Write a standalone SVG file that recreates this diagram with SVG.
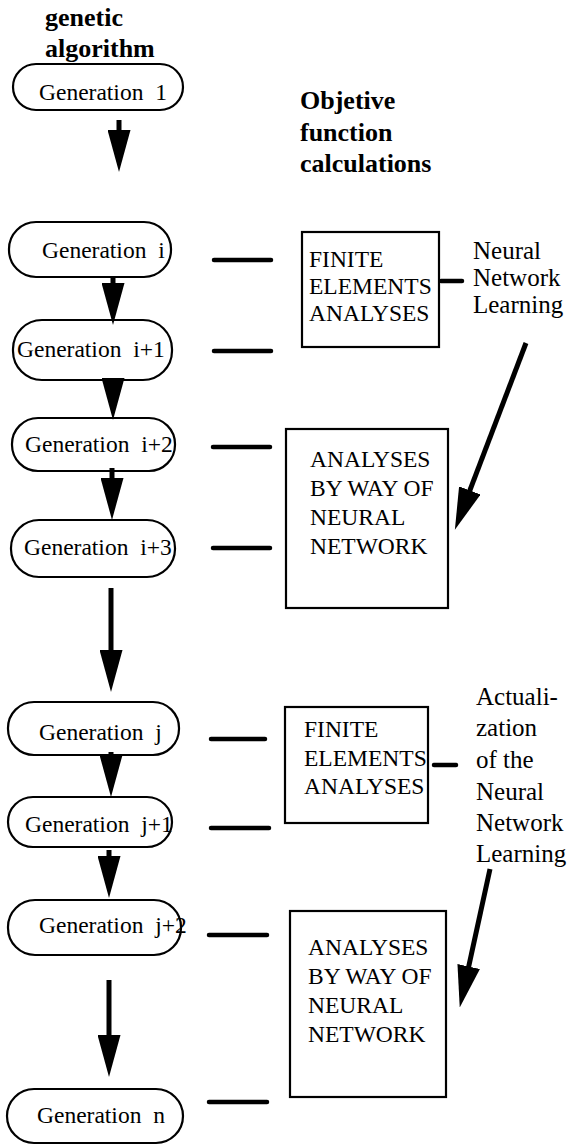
<svg xmlns="http://www.w3.org/2000/svg" width="569" height="1145" viewBox="0 0 569 1145">
<style>
text{font-family:"Liberation Serif","Times New Roman",serif;fill:#000;white-space:pre}
.b{font-weight:bold;font-size:26px}
.g{font-size:23.5px}
.t{font-size:23.5px}
.r{font-size:25px}
.node{fill:#fff;stroke:#000;stroke-width:2.2}
.box{fill:#fff;stroke:#000;stroke-width:2.2}
.arr{stroke:#000;stroke-width:5;fill:none;marker-end:url(#ah)}
.dash{stroke:#000;stroke-width:4.5;stroke-linecap:round}
</style>
<defs>
<marker id="ah" markerUnits="userSpaceOnUse" markerWidth="42" markerHeight="23" refX="22" refY="11.5" orient="auto" viewBox="0 0 42 23">
<path d="M0,0 L42,11.5 L0,23 Z" fill="#000"/>
</marker>
</defs>
<rect width="569" height="1145" fill="#fff"/>
<g id="titles">
<text class="b" x="45" y="26">genetic</text>
<text class="b" x="45" y="57">algorithm</text>
<text class="b" x="300" y="109">Objetive</text>
<text class="b" x="300" y="141">function</text>
<text class="b" x="300" y="172">calculations</text>
</g>
<g id="gen1"><rect class="node" x="13" y="64" width="170" height="46" rx="23"/><text class="g" x="39" y="100">Generation  1</text></g>
<g id="geni"><rect class="node" x="9" y="222" width="162" height="55" rx="27"/><text class="g" x="42" y="258">Generation  i</text></g>
<g id="geni1"><rect class="node" x="13" y="320" width="159" height="60" rx="29"/><text class="g" x="17" y="357">Generation  i+1</text></g>
<g id="geni2"><rect class="node" x="12" y="418" width="163" height="53" rx="26"/><text class="g" x="25" y="452">Generation  i+2</text></g>
<g id="geni3"><rect class="node" x="11" y="520" width="164" height="57" rx="28"/><text class="g" x="24" y="555">Generation  i+3</text></g>
<g id="genj"><rect class="node" x="8" y="702" width="171" height="53" rx="26"/><text class="g" x="39" y="740">Generation  j</text></g>
<g id="genj1"><rect class="node" x="8" y="797" width="164" height="50" rx="25"/><text class="g" x="25" y="832">Generation  j+1</text></g>
<g id="genj2"><rect class="node" x="8" y="900" width="173" height="55" rx="27"/><text class="g" x="39" y="933">Generation  j+2</text></g>
<g id="genn"><rect class="node" x="7" y="1089" width="176" height="54" rx="27"/><text class="g" x="37" y="1123">Generation  n</text></g>
<g id="fea1"><rect class="box" x="302" y="232" width="137" height="115"/>
<text class="t" x="309" y="267">FINITE</text><text class="t" x="309" y="294">ELEMENTS</text><text class="t" x="309" y="321">ANALYSES</text></g>
<g id="ann1"><rect class="box" x="286" y="429" width="162" height="179"/>
<text class="t" x="310" y="467">ANALYSES</text><text class="t" x="310" y="496">BY WAY OF</text><text class="t" x="310" y="525">NEURAL</text><text class="t" x="310" y="554">NETWORK</text></g>
<g id="fea2"><rect class="box" x="285" y="707" width="143" height="116"/>
<text class="t" x="304" y="737">FINITE</text><text class="t" x="304" y="766">ELEMENTS</text><text class="t" x="304" y="794">ANALYSES</text></g>
<g id="ann2"><rect class="box" x="290" y="911" width="156" height="186"/>
<text class="t" x="308" y="955">ANALYSES</text><text class="t" x="308" y="984">BY WAY OF</text><text class="t" x="308" y="1013">NEURAL</text><text class="t" x="308" y="1042">NETWORK</text></g>
<g id="nnl"><text class="r" x="473" y="259">Neural</text><text class="r" x="473" y="286">Network</text><text class="r" x="473" y="313">Learning</text></g>
<g id="actual"><text class="r" x="476" y="705">Actuali-</text><text class="r" x="476" y="736">zation</text><text class="r" x="476" y="768">of the</text><text class="r" x="476" y="800">Neural</text><text class="r" x="476" y="831">Network</text><text class="r" x="476" y="862">Learning</text></g>
<g id="connectors">
<line class="arr" x1="119" y1="120" x2="119" y2="152"/>
<line class="arr" x1="113" y1="276" x2="113" y2="305"/>
<line class="arr" x1="113" y1="378" x2="113" y2="400"/>
<line class="arr" x1="112" y1="468" x2="112" y2="500"/>
<line class="arr" x1="111" y1="588" x2="111" y2="672"/>
<line class="arr" x1="111" y1="752" x2="111" y2="777"/>
<line class="arr" x1="109" y1="850" x2="109" y2="878"/>
<line class="arr" x1="109" y1="980" x2="109" y2="1057"/>
<line class="arr" x1="526" y1="343" x2="462" y2="511"/>
<line class="arr" x1="490" y1="869" x2="464" y2="988"/>
<line class="dash" x1="214" y1="260" x2="271" y2="260"/>
<line class="dash" x1="214" y1="351" x2="271" y2="351"/>
<line class="dash" x1="213" y1="447" x2="270" y2="447"/>
<line class="dash" x1="213" y1="548" x2="270" y2="548"/>
<line class="dash" x1="211" y1="739" x2="265" y2="739"/>
<line class="dash" x1="211" y1="828" x2="269" y2="828"/>
<line class="dash" x1="209" y1="935" x2="267" y2="935"/>
<line class="dash" x1="209" y1="1102" x2="267" y2="1102"/>
<line class="dash" x1="441" y1="281" x2="462" y2="281"/>
<line class="dash" x1="434" y1="765" x2="456" y2="765"/>
</g>
</svg>
